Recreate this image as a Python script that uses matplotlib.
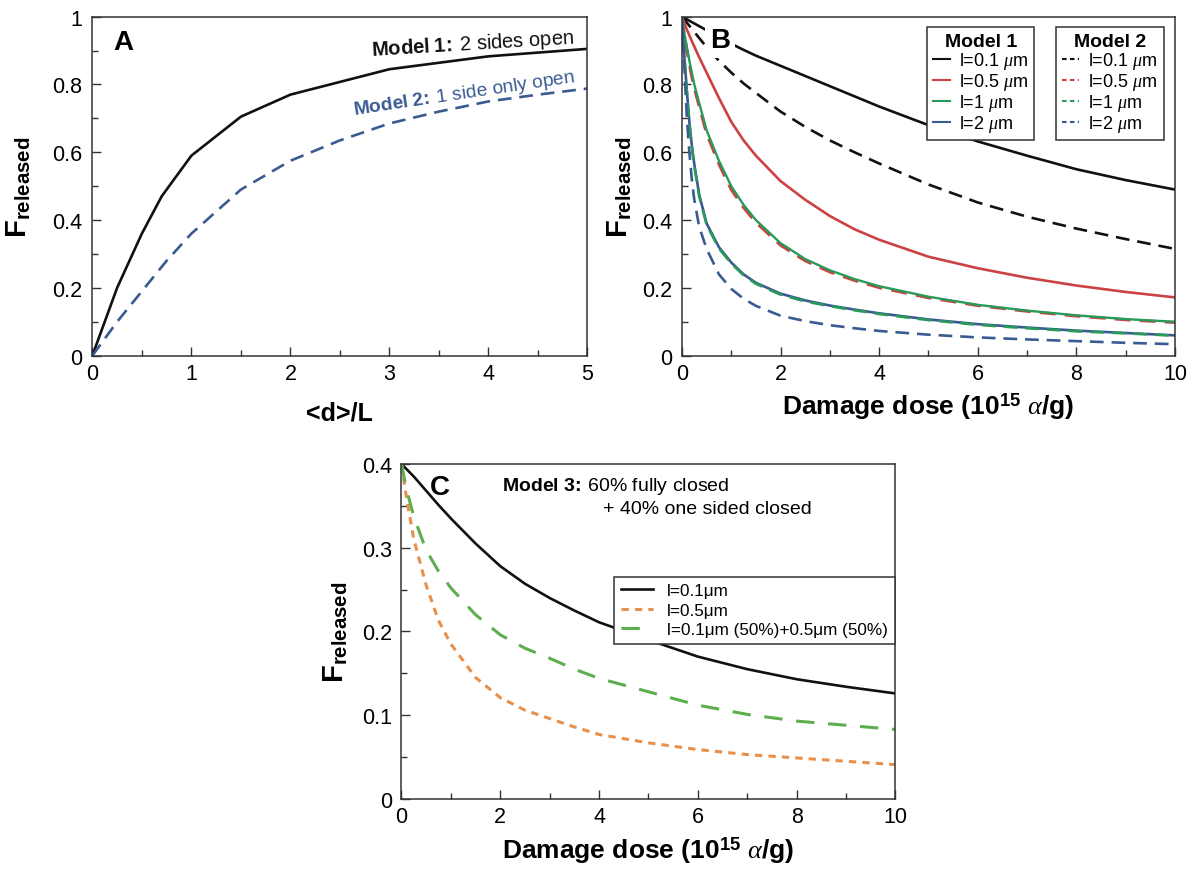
import numpy as np
import matplotlib
matplotlib.use("Agg")
import matplotlib.pyplot as plt
from matplotlib.lines import Line2D

plt.rcParams['font.family'] = ['Liberation Sans', 'DejaVu Sans']
plt.rcParams['mathtext.fontset'] = 'custom'
plt.rcParams['mathtext.rm'] = 'Liberation Sans'
plt.rcParams['mathtext.bf'] = 'Liberation Sans:bold'
plt.rcParams['mathtext.it'] = 'Liberation Serif:italic'

# ---- panel A data ----
a_x1 = [0, 0.25, 0.5, 0.7, 1, 1.5, 2, 3, 4, 5]
a_m1 = [0, 0.2, 0.36, 0.47, 0.59, 0.705, 0.77, 0.845, 0.883, 0.905]
a_x2 = [0, 0.25, 0.5, 0.75, 1, 1.5, 2, 2.5, 3, 3.5, 4, 4.5, 5]
a_m2 = [0, 0.1, 0.19, 0.28, 0.36, 0.49, 0.575, 0.635, 0.685, 0.72, 0.75, 0.77, 0.788]

# ---- panel B data (damage dose, F released) ----
b_x = [0, 0.05, 0.1, 0.15, 0.2, 0.25, 0.35, 0.5, 0.75, 1, 1.25, 1.5, 2, 2.5, 3, 3.5, 4, 5, 6, 7, 8, 9, 10]
m1_01 = [1, .996, .992, .988, .984, .98, .972, .96, .94, .92, .902, .885, .855, .825, .795, .765, .735, .68, .632, .59, .55, .518, .49]
m2_01 = [1, .991, .982, .973, .964, .955, .937, .91, .87, .835, .803, .775, .72, .675, .635, .6, .567, .505, .452, .41, .375, .344, .315]
m1_05 = [1, .98, .962, .945, .928, .912, .88, .835, .76, .69, .635, .59, .515, .46, .412, .373, .342, .292, .258, .23, .207, .188, .172]
m2_05 = [1, .945, .9, .86, .822, .79, .735, .655, .565, .49, .437, .393, .326, .28, .247, .222, .201, .171, .148, .131, .117, .106, .098]
m1_1 = [1, .95, .91, .87, .835, .8, .745, .665, .575, .5, .445, .4, .332, .285, .252, .226, .205, .174, .15, .133, .119, .108, .1]
m2_1 = [1, .875, .775, .685, .615, .56, .47, .386, .316, .272, .237, .212, .18, .16, .146, .134, .123, .105, .091, .081, .072, .066, .059]
m1_2 = [1, .88, .78, .69, .62, .565, .475, .39, .32, .275, .24, .215, .183, .163, .148, .136, .125, .107, .093, .083, .074, .067, .06]
m2_2 = [1, .85, .7, .6, .52, .46, .38, .315, .24, .197, .168, .147, .118, .102, .09, .081, .073, .062, .054, .048, .043, .038, .034]
b_labels = [r"l=0.1 $\mu$m", r"l=0.5 $\mu$m", r"l=1 $\mu$m", r"l=2 $\mu$m"]

# ---- panel C data ----
c_x = [0, 0.05, 0.1, 0.25, 0.5, 0.75, 1, 1.5, 2, 2.5, 3, 3.5, 4, 5, 6, 7, 8, 9, 10]
c_01 = [.4, .397, .394, .385, .368, .351, .335, .305, .278, .257, .24, .225, .211, .19, .17, .155, .143, .134, .126]
c_05 = [.4, .38, .36, .31, .255, .213, .185, .145, .121, .106, .096, .086, .077, .067, .059, .053, .049, .045, .041]
c_mix = [.4, .385, .37, .337, .297, .272, .252, .22, .196, .18, .168, .155, .144, .128, .112, .101, .093, .088, .083]
c_labels = ["l=0.1\u03bcm", "l=0.5\u03bcm", "l=0.1\u03bcm (50%)+0.5\u03bcm (50%)"]

black = "#111111"
red = "#cc4242"
green = "#2a9a5a"
blue = "#3a5a92"
orange = "#e8904a"
green2 = "#5cae4e"

ylab = r"$\mathbf{F}_{\mathbf{released}}$"
xlab = r"Damage dose (10$^{\mathbf{15}}$ $\alpha$/g)"

fig = plt.figure(figsize=(11.96, 8.7), dpi=100)
axA = fig.add_axes([0.0772, 0.59, 0.414, 0.3897])
axB = fig.add_axes([0.5702, 0.59, 0.4122, 0.3897])
axC = fig.add_axes([0.3357, 0.0805, 0.413, 0.385])


def style(ax, xmax, ymax, xmaj, xmin, ymaj, ymin):
    ax.set_xlim(0, xmax)
    ax.set_ylim(0, ymax)
    yt = np.arange(0, ymax + 1e-9, ymaj)
    ax.set_xticks(np.arange(0, xmax + 1e-9, xmaj))
    ax.set_xticks(np.arange(0, xmax + 1e-9, xmin), minor=True)
    ax.set_yticks(yt)
    ax.set_yticks(np.arange(0, ymax + 1e-9, ymin), minor=True)
    ax.set_xticklabels([f"{v:g}" for v in np.arange(0, xmax + 1e-9, xmaj)])
    ax.set_yticklabels([f"{round(v, 2):g}" for v in yt])
    ax.tick_params(which='both', direction='in', top=False, right=False,
                   labelsize=15.5, color='#333333')
    ax.tick_params(which='major', length=6.5, width=1)
    ax.tick_params(which='minor', length=4.5, width=1)
    ax.tick_params(axis='x', pad=5)
    ax.tick_params(axis='y', pad=7)
    for s in ax.spines.values():
        s.set_linewidth(1.1)
        s.set_color('#333333')


def model_txt(n, rest):
    return r"$\mathbf{Model\ " + str(n) + r"\!:}$" + "\u2009" + rest


# Panel A
axA.plot(a_x1, a_m1, color=black, lw=1.9)
axA.plot(a_x2, a_m2, color=blue, lw=1.9, dashes=(5.2, 3))
style(axA, 5, 1, 1, 0.5, 0.2, 0.1)
axA.set_xlabel("<d>/L", fontsize=18, fontweight='bold', labelpad=12)
axA.set_ylabel(ylab, fontsize=21)
axA.yaxis.set_label_coords(-0.12, 0.5)
axA.text(0.31, 0.925, "A", fontsize=20, fontweight='bold', ha='center', va='center')
axA.text(3.84, 0.922, model_txt(1, "2 sides open"), fontsize=14.5,
         ha='center', va='center', rotation=3.5, color=black)
axA.text(3.76, 0.774, model_txt(2, "1 side only open"), fontsize=13.8,
         ha='center', va='center', rotation=8.5, color=blue)

# Panel B
axB.plot(b_x, m1_01, color=black, lw=1.9)
axB.plot(b_x, m2_01, color=black, lw=1.9, dashes=(5.2, 3))
axB.plot(b_x, m1_05, color=red, lw=1.9)
axB.plot(b_x, m2_05, color=red, lw=2.2, dashes=(5.2, 3))
axB.plot(b_x, m1_1, color=green, lw=1.7)
axB.plot(b_x, m1_2, color=blue, lw=1.9)
axB.plot(b_x, m2_1, color=green, lw=1.9, dashes=(5.2, 3))
axB.plot(b_x, m2_2, color=blue, lw=1.9, dashes=(5.2, 3))
style(axB, 10, 1, 2, 1, 0.2, 0.1)
axB.set_xlabel(xlab, fontsize=19, fontweight='bold', labelpad=5)
axB.set_ylabel(ylab, fontsize=21)
axB.yaxis.set_label_coords(-0.097, 0.5)
axB.text(0.77, 0.93, "B", fontsize=20, fontweight='bold', ha='center', va='center',
         bbox=dict(facecolor='white', edgecolor='none', pad=3.5), zorder=5)

cols = [black, red, green, blue]
h1 = [Line2D([], [], color=c, lw=1.5) for c in cols]
h2 = [Line2D([], [], color=c, lw=1.5, dashes=(2.2, 1.6)) for c in cols]
common = dict(fontsize=13, handlelength=0.9, handletextpad=0.5, labelspacing=0.0,
              borderpad=0.35, borderaxespad=0, fancybox=False, framealpha=1,
              edgecolor='#333333', title_fontproperties={'weight': 'bold', 'size': 14})
leg1 = axB.legend(h1, b_labels, title="Model 1", loc='upper left',
                  bbox_to_anchor=(0.497, 0.97), **common)
leg1.get_frame().set_linewidth(1.1)
axB.add_artist(leg1)
leg2 = axB.legend(h2, b_labels, title="Model 2", loc='upper left',
                  bbox_to_anchor=(0.759, 0.97), **common)
leg2.get_frame().set_linewidth(1.1)

# Panel C
axC.plot(c_x, c_01, color=black, lw=1.9, label=c_labels[0])
axC.plot(c_x, c_05, color=orange, lw=2.2, dashes=(2.4, 2), label=c_labels[1])
axC.plot(c_x, c_mix, color=green2, lw=2.2, dashes=(6, 4.5), label=c_labels[2])
style(axC, 10, 0.4, 2, 1, 0.1, 0.05)
axC.set_xlabel(xlab, fontsize=19, fontweight='bold', labelpad=5)
axC.set_ylabel(ylab, fontsize=21)
axC.yaxis.set_label_coords(-0.105, 0.5)
axC.text(0.77, 0.372, "C", fontsize=20, fontweight='bold', ha='center', va='center')
axC.text(2.03, 0.3745, model_txt(3, "60% fully closed"), fontsize=14, va='center')
axC.text(4.08, 0.347, "+ 40% one sided closed", fontsize=14, va='center')
legC = axC.legend(loc='upper left', bbox_to_anchor=(0.43, 0.664), fontsize=12.3,
                  handlelength=1.9, handletextpad=0.8, labelspacing=0.25,
                  borderpad=0.4, borderaxespad=0, fancybox=False, framealpha=1,
                  edgecolor='#333333')
legC.get_frame().set_linewidth(1.1)

fig.savefig("out.png", dpi=100)
